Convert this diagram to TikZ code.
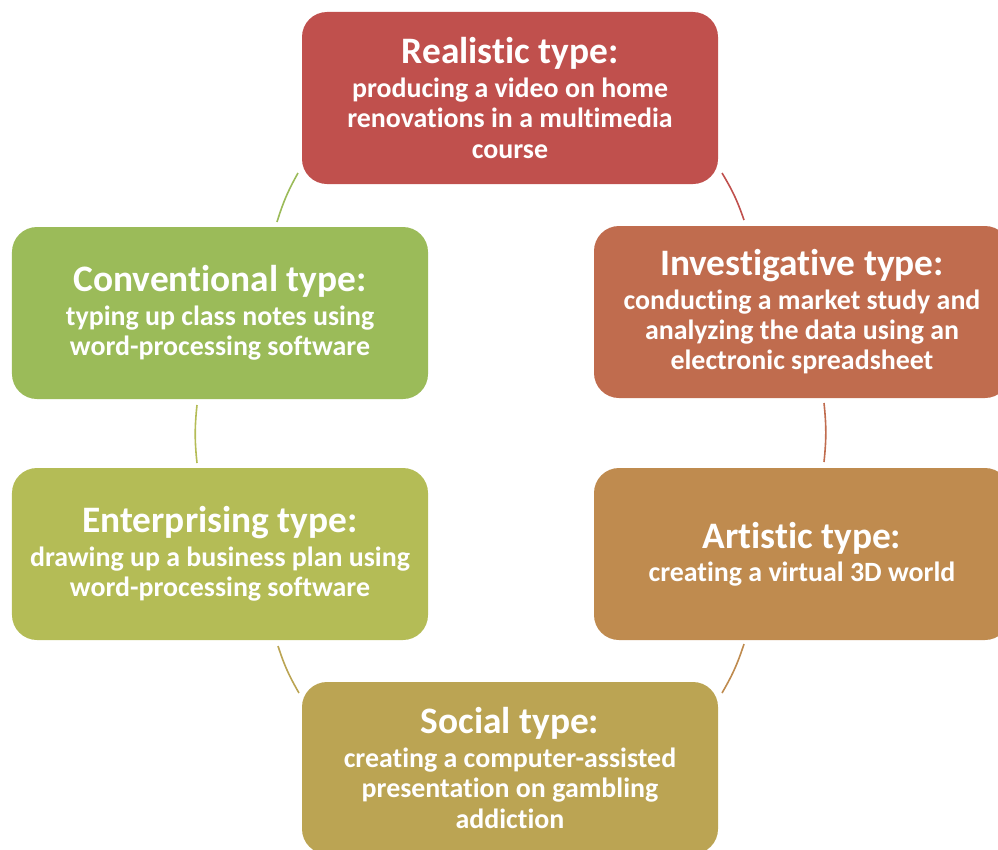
\documentclass[tikz,border=0pt]{standalone}
\usepackage{fontspec}
\setmainfont{Carlito}[Ligatures=NoCommon]
\usetikzlibrary{positioning}
\usetikzlibrary{calc}

\definecolor{realc}{HTML}{C0504D}
\definecolor{invc}{HTML}{C06C4E}
\definecolor{artc}{HTML}{BF8B4F}
\definecolor{socc}{HTML}{BBA453}
\definecolor{entc}{HTML}{B4BC56}
\definecolor{convc}{HTML}{9BBB59}

\newcommand{\typetitle}[1]{{\fontsize{37.5}{40}\selectfont #1}}

\begin{document}
\begin{tikzpicture}[x=1bp, y=-1bp,
  typebox/.style={rounded corners=25bp, minimum width=416bp, minimum height=172bp,
    text=white, align=center, inner sep=0pt,
    font=\bfseries\fontsize{28}{30.5}\selectfont},
  cyclearc/.style={line width=1.6bp, bend left=6}]

\useasboundingbox (0,0) rectangle (998,850);

% the six types
\node[typebox, fill=realc] (real) at (510,98) {\typetitle{Realistic type:}\\[3bp]producing a video on home\\renovations in a multimedia\\course};
\node[typebox, fill=invc] (inv) at (802,312) {\typetitle{Investigative type:}\\[3bp]conducting a market study and\\analyzing the data using an\\electronic spreadsheet};
\node[typebox, fill=artc] (art) at (802,554) {\typetitle{Artistic type:}\\[3bp]creating a virtual 3D world};
\node[typebox, fill=socc] (soc) at (510,768) {\typetitle{Social type:}\\[3bp]creating a computer-assisted\\presentation on gambling\\addiction};
\node[typebox, fill=entc] (ent) at (220,554) {\typetitle{Enterprising type:}\\[3bp]drawing up a business plan using\\word-processing software};
\node[typebox, fill=convc] (conv) at (220,313) {\typetitle{Conventional type:}\\[3bp]typing up class notes using\\word-processing software};

% arc ends
\coordinate (realout) at (722,173);
\coordinate (invin) at (744,220);
\coordinate (invout) at (824,403);
\coordinate (artin) at (824,462);
\coordinate (artout) at (744,644);
\coordinate (socin) at (722,693);
\coordinate (socout) at (299,693);
\coordinate (entin) at (278,646);
\coordinate (entout) at (197,463);
\coordinate (convin) at (197,405);
\coordinate (convout) at (277,222);
\coordinate (realin) at (298,173);

% cycle arcs
\draw[cyclearc, realc] (realout) to (invin);
\draw[cyclearc, invc] (invout) to (artin);
\draw[cyclearc, artc] (artout) to (socin);
\draw[cyclearc, socc] (socout) to (entin);
\draw[cyclearc, entc] (entout) to (convin);
\draw[cyclearc, convc] (convout) to (realin);

\end{tikzpicture}
\end{document}
